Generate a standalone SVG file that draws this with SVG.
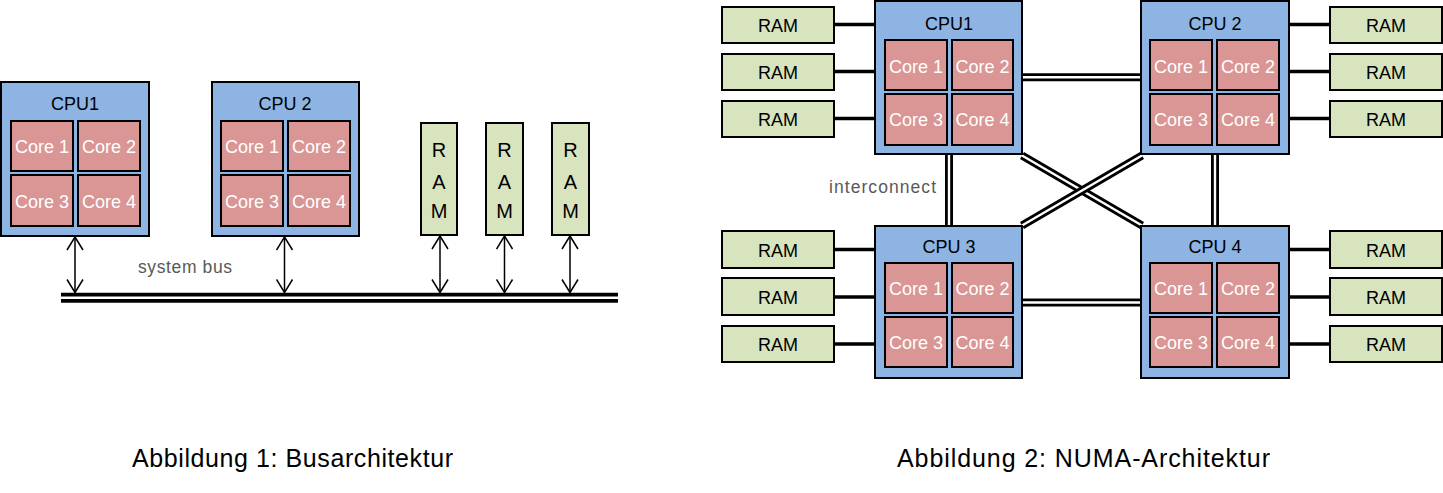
<svg xmlns="http://www.w3.org/2000/svg" width="1443" height="493" viewBox="0 0 1443 493">
<style>
text{font-family:"Liberation Sans",Arial,sans-serif;}
.cpu{fill:#8EB4E3;stroke:#000;stroke-width:2;}
.core{fill:#D99694;stroke:#000;stroke-width:2;}
.ram{fill:#D7E4BD;stroke:#000;stroke-width:2;}
.lbl{font-size:18px;fill:#000;text-anchor:middle;}
.ctx{font-size:18px;fill:#fff;text-anchor:middle;}
.gray{font-size:17.5px;fill:#595959;}
.cap{font-size:25px;fill:#000;}
.outer{stroke:#000;stroke-width:8;fill:none;}
.inner{stroke:#fff;stroke-width:2.4;fill:none;}
.busO{stroke:#000;stroke-width:10;fill:none;}
.busI{stroke:#fff;stroke-width:2.6;fill:none;}
.link{stroke:#000;stroke-width:3.5;}
.arr{stroke:#000;stroke-width:1.5;fill:none;marker-start:url(#chev);marker-end:url(#chev);}
</style>
<defs>
<marker id="chev" markerUnits="userSpaceOnUse" viewBox="0 0 16 18" markerWidth="16" markerHeight="18" refX="14" refY="9" orient="auto-start-reverse">
<path d="M1 1 L14 9 L1 17" fill="none" stroke="#000" stroke-width="1.5"/>
</marker>
</defs>
<rect width="1443" height="493" fill="#fff"/>

<!-- ===== Figure 1: bus architecture ===== -->
<g id="connectors-bus">
<line class="busO" x1="61" y1="297.7" x2="618" y2="297.7"/>
<line class="busI" x1="61" y1="297.7" x2="618" y2="297.7"/>
<line class="arr" x1="75" y1="237" x2="75" y2="292.5"/>
<line class="arr" x1="284.5" y1="237" x2="284.5" y2="292.5"/>
<line class="arr" x1="440" y1="236" x2="440" y2="292.5"/>
<line class="arr" x1="504.5" y1="236" x2="504.5" y2="292.5"/>
<line class="arr" x1="570" y1="236" x2="570" y2="292.5"/>
</g>
<text id="lbl-system-bus" class="gray" x="138" y="273" textLength="94" lengthAdjust="spacing">system bus</text>

<g id="b-cpu1">
<rect class="cpu" x="1" y="82" width="148" height="154"/>
<text class="lbl" x="75" y="110">CPU1</text>
<rect class="core" x="11" y="121" width="62" height="50"/>
<rect class="core" x="78" y="121" width="62" height="50"/>
<rect class="core" x="11" y="175" width="62" height="51"/>
<rect class="core" x="78" y="175" width="62" height="51"/>
<text class="ctx" x="42" y="153">Core 1</text>
<text class="ctx" x="109" y="153">Core 2</text>
<text class="ctx" x="42" y="208">Core 3</text>
<text class="ctx" x="109" y="208">Core 4</text>
</g>
<g id="b-cpu2">
<rect class="cpu" x="212" y="82" width="147" height="154"/>
<text class="lbl" x="285" y="110">CPU 2</text>
<rect class="core" x="221" y="121" width="62" height="50"/>
<rect class="core" x="288" y="121" width="62" height="50"/>
<rect class="core" x="221" y="175" width="62" height="51"/>
<rect class="core" x="288" y="175" width="62" height="51"/>
<text class="ctx" x="252" y="153">Core 1</text>
<text class="ctx" x="319" y="153">Core 2</text>
<text class="ctx" x="252" y="208">Core 3</text>
<text class="ctx" x="319" y="208">Core 4</text>
</g>
<g id="b-ram1">
<rect class="ram" x="421" y="123" width="36" height="112"/>
<text class="lbl" x="439" y="157" style="font-size:20px">R</text>
<text class="lbl" x="439" y="189" style="font-size:20px">A</text>
<text class="lbl" x="439" y="218" style="font-size:20px">M</text>
</g>
<g id="b-ram2">
<rect class="ram" x="486" y="123" width="37" height="112"/>
<text class="lbl" x="504.5" y="157" style="font-size:20px">R</text>
<text class="lbl" x="504.5" y="189" style="font-size:20px">A</text>
<text class="lbl" x="504.5" y="218" style="font-size:20px">M</text>
</g>
<g id="b-ram3">
<rect class="ram" x="552" y="123" width="37" height="112"/>
<text class="lbl" x="570.5" y="157" style="font-size:20px">R</text>
<text class="lbl" x="570.5" y="189" style="font-size:20px">A</text>
<text class="lbl" x="570.5" y="218" style="font-size:20px">M</text>
</g>
<text id="caption1" class="cap" x="132" y="467" textLength="321" lengthAdjust="spacing">Abbildung 1: Busarchitektur</text>

<!-- ===== Figure 2: NUMA ===== -->
<g id="connectors-numa">
<line class="link" x1="834" y1="24.5" x2="876" y2="24.5"/>
<line class="link" x1="834" y1="71.5" x2="876" y2="71.5"/>
<line class="link" x1="834" y1="118.5" x2="876" y2="118.5"/>
<line class="link" x1="834" y1="249.5" x2="876" y2="249.5"/>
<line class="link" x1="834" y1="297" x2="876" y2="297"/>
<line class="link" x1="834" y1="344" x2="876" y2="344"/>
<line class="link" x1="1288" y1="24.5" x2="1330" y2="24.5"/>
<line class="link" x1="1288" y1="71.5" x2="1330" y2="71.5"/>
<line class="link" x1="1288" y1="118.5" x2="1330" y2="118.5"/>
<line class="link" x1="1288" y1="249.5" x2="1330" y2="249.5"/>
<line class="link" x1="1288" y1="297" x2="1330" y2="297"/>
<line class="link" x1="1288" y1="344" x2="1330" y2="344"/>
<line class="outer" x1="1023" y1="77.2" x2="1141" y2="77.2"/>
<line class="inner" x1="1023" y1="77.2" x2="1141" y2="77.2"/>
<line class="outer" x1="1023" y1="302.5" x2="1141" y2="302.5"/>
<line class="inner" x1="1023" y1="302.5" x2="1141" y2="302.5"/>
<line class="outer" x1="949" y1="155" x2="949" y2="226"/>
<line class="inner" x1="949" y1="155" x2="949" y2="226"/>
<line class="outer" x1="1215" y1="155" x2="1215" y2="226"/>
<line class="inner" x1="1215" y1="155" x2="1215" y2="226"/>
<line class="outer" x1="1022" y1="155.5" x2="1142" y2="225.5"/>
<line class="inner" x1="1022" y1="155.5" x2="1142" y2="225.5"/>
<line class="outer" x1="1022" y1="225.5" x2="1142" y2="155.5"/>
<line class="inner" x1="1022" y1="225.5" x2="1142" y2="155.5"/>
</g>
<text id="lbl-interconnect" class="gray" x="829" y="193" textLength="107" lengthAdjust="spacing">interconnect</text>

<g id="n-cpu1">
<rect class="cpu" x="875" y="1" width="147" height="153"/>
<text class="lbl" x="949" y="30">CPU1</text>
<rect class="core" x="885" y="40" width="62" height="50"/>
<rect class="core" x="952" y="40" width="61" height="50"/>
<rect class="core" x="885" y="94" width="62" height="51"/>
<rect class="core" x="952" y="94" width="61" height="51"/>
<text class="ctx" x="916" y="73">Core 1</text>
<text class="ctx" x="982.5" y="73">Core 2</text>
<text class="ctx" x="916" y="126">Core 3</text>
<text class="ctx" x="982.5" y="126">Core 4</text>
</g>
<g id="n-cpu2">
<rect class="cpu" x="1141" y="1" width="148" height="153"/>
<text class="lbl" x="1215" y="30">CPU 2</text>
<rect class="core" x="1150" y="40" width="62" height="50"/>
<rect class="core" x="1217" y="40" width="62" height="50"/>
<rect class="core" x="1150" y="94" width="62" height="51"/>
<rect class="core" x="1217" y="94" width="62" height="51"/>
<text class="ctx" x="1181" y="73">Core 1</text>
<text class="ctx" x="1248" y="73">Core 2</text>
<text class="ctx" x="1181" y="126">Core 3</text>
<text class="ctx" x="1248" y="126">Core 4</text>
</g>
<g id="n-cpu3">
<rect class="cpu" x="875" y="226" width="147" height="152"/>
<text class="lbl" x="949" y="253">CPU 3</text>
<rect class="core" x="885" y="263" width="62" height="50"/>
<rect class="core" x="952" y="263" width="61" height="50"/>
<rect class="core" x="885" y="317" width="62" height="50"/>
<rect class="core" x="952" y="317" width="61" height="50"/>
<text class="ctx" x="916" y="295">Core 1</text>
<text class="ctx" x="982.5" y="295">Core 2</text>
<text class="ctx" x="916" y="349">Core 3</text>
<text class="ctx" x="982.5" y="349">Core 4</text>
</g>
<g id="n-cpu4">
<rect class="cpu" x="1141" y="226" width="148" height="152"/>
<text class="lbl" x="1215" y="253">CPU 4</text>
<rect class="core" x="1150" y="263" width="62" height="50"/>
<rect class="core" x="1217" y="263" width="62" height="50"/>
<rect class="core" x="1150" y="317" width="62" height="50"/>
<rect class="core" x="1217" y="317" width="62" height="50"/>
<text class="ctx" x="1181" y="295">Core 1</text>
<text class="ctx" x="1248" y="295">Core 2</text>
<text class="ctx" x="1181" y="349">Core 3</text>
<text class="ctx" x="1248" y="349">Core 4</text>
</g>

<g id="ram-l1"><rect class="ram" x="722" y="7" width="112" height="36"/><text class="lbl" x="778" y="31.5">RAM</text></g>
<g id="ram-l2"><rect class="ram" x="722" y="54" width="112" height="36"/><text class="lbl" x="778" y="78.5">RAM</text></g>
<g id="ram-l3"><rect class="ram" x="722" y="101" width="112" height="36"/><text class="lbl" x="778" y="125.5">RAM</text></g>
<g id="ram-l4"><rect class="ram" x="722" y="231" width="112" height="37"/><text class="lbl" x="778" y="256.5">RAM</text></g>
<g id="ram-l5"><rect class="ram" x="722" y="278" width="112" height="37"/><text class="lbl" x="778" y="303.5">RAM</text></g>
<g id="ram-l6"><rect class="ram" x="722" y="326" width="112" height="36"/><text class="lbl" x="778" y="350.5">RAM</text></g>
<g id="ram-r1"><rect class="ram" x="1330" y="7" width="112" height="36"/><text class="lbl" x="1386" y="31.5">RAM</text></g>
<g id="ram-r2"><rect class="ram" x="1330" y="54" width="112" height="36"/><text class="lbl" x="1386" y="78.5">RAM</text></g>
<g id="ram-r3"><rect class="ram" x="1330" y="101" width="112" height="36"/><text class="lbl" x="1386" y="125.5">RAM</text></g>
<g id="ram-r4"><rect class="ram" x="1330" y="231" width="112" height="37"/><text class="lbl" x="1386" y="256.5">RAM</text></g>
<g id="ram-r5"><rect class="ram" x="1330" y="278" width="112" height="37"/><text class="lbl" x="1386" y="303.5">RAM</text></g>
<g id="ram-r6"><rect class="ram" x="1330" y="326" width="112" height="36"/><text class="lbl" x="1386" y="350.5">RAM</text></g>

<text id="caption2" class="cap" x="897" y="467" textLength="373" lengthAdjust="spacing">Abbildung 2: NUMA-Architektur</text>
</svg>
